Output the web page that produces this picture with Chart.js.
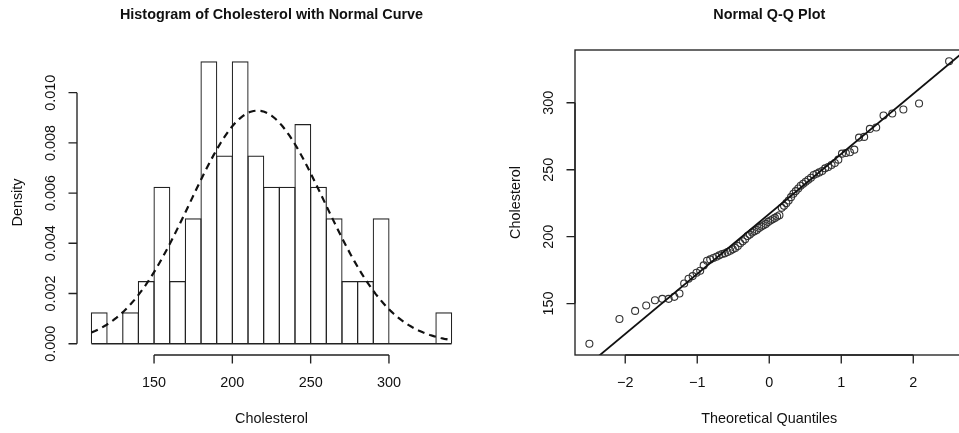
<!DOCTYPE html>
<html>
<head>
<meta charset="utf-8">
<script src="https://cdn.jsdelivr.net/npm/chart.js@4.4.1/dist/chart.umd.min.js"></script>
<style>
html,body{margin:0;padding:0;background:#fff;overflow:hidden;}
#wrap{position:relative;width:959px;height:433px;overflow:hidden;background:#fff;}
#c1{position:absolute;left:0;top:0;}
#c2{position:absolute;left:480px;top:0;}
</style>
</head>
<body>
<div id="wrap">
<canvas id="c1" width="480" height="433"></canvas>
<canvas id="c2" width="490" height="433"></canvas>
</div>
<script>
// ---------- data ----------
const binEdges = [110,120,130,140,150,160,170,180,190,200,210,220,230,240,250,260,270,280,290,300,310,320,330,340];
const binDensity = [0.00125,0,0.00125,0.0025,0.00625,0.0025,0.005,0.01125,0.0075,0.01125,0.0075,0.00625,0.00625,0.00875,0.00625,0.005,0.0025,0.0025,0.005,0,0,0,0.00125];

const cholesterol = [
  120,138.5,144.5,148.5,152.5,153.5,153.5,155,157.5,165,
  168.5,170.5,173,174.5,178.5,182,183,184,185,186,
  187,187.5,188.5,189.5,190.5,191.5,193,195,196.5,198,
  200.5,201.5,203,204,205,206.5,207.5,208.5,209.5,211,
  212,213,214,215,216,221.5,223,225,227,229.5,
  232,234,236,238,239.5,241,242.5,244,246,247,
  248,249,251,252,253.5,255,257.5,262,262.5,263,
  265,274,274.5,280.5,281.5,290.5,292,295,299.5,331
];

const histXTicks = [150,200,250,300];
const histXTickLabels = ['150','200','250','300'];
const histYTicks = [0,0.002,0.004,0.006,0.008,0.010];
const histYTickLabels = ['0.000','0.002','0.004','0.006','0.008','0.010'];

const qqXTicks = [-2,-1,0,1,2];
const qqXTickLabels = ['\u22122','\u22121','0','1','2'];
const qqYTicks = [150,200,250,300];
const qqYTickLabels = ['150','200','250','300'];

// ---------- helpers (R-like statistics) ----------
function qnorm(p){
  const a=[-3.969683028665376e+01,2.209460984245205e+02,-2.759285104469687e+02,1.383577518672690e+02,-3.066479806614716e+01,2.506628277459239e+00];
  const b=[-5.447609879822406e+01,1.615858368580409e+02,-1.556989798598866e+02,6.680131188771972e+01,-1.328068155288572e+01];
  const c=[-7.784894002430293e-03,-3.223964580411365e-01,-2.400758277161838e+00,-2.549732539343734e+00,4.374664141464968e+00,2.938163982698783e+00];
  const d=[7.784695709041462e-03,3.224671290700398e-01,2.445134137142996e+00,3.754408661907416e+00];
  const pl=0.02425, ph=1-pl; let q,r;
  if(p<pl){q=Math.sqrt(-2*Math.log(p));return (((((c[0]*q+c[1])*q+c[2])*q+c[3])*q+c[4])*q+c[5])/((((d[0]*q+d[1])*q+d[2])*q+d[3])*q+1);}
  if(p<=ph){q=p-0.5;r=q*q;return (((((a[0]*r+a[1])*r+a[2])*r+a[3])*r+a[4])*r+a[5])*q/(((((b[0]*r+b[1])*r+b[2])*r+b[3])*r+b[4])*r+1);}
  q=Math.sqrt(-2*Math.log(1-p));return -(((((c[0]*q+c[1])*q+c[2])*q+c[3])*q+c[4])*q+c[5])/((((d[0]*q+d[1])*q+d[2])*q+d[3])*q+1);
}
function quantile7(s,p){const h=(s.length-1)*p;const lo=Math.floor(h);const hi=Math.min(lo+1,s.length-1);return s[lo]+(h-lo)*(s[hi]-s[lo]);}
function extend(lo,hi){const r=hi-lo;return [lo-0.04*r,hi+0.04*r];}

const sorted = cholesterol.slice().sort((a,b)=>a-b);
const n = sorted.length;
const mean = sorted.reduce((s,v)=>s+v,0)/n;
const sd = Math.sqrt(sorted.reduce((s,v)=>s+(v-mean)*(v-mean),0)/(n-1));
const theo = sorted.map((v,i)=>qnorm((i+1-0.5)/n));

// histogram bars
const barData = binDensity.map((d,i)=>({x:(binEdges[i]+binEdges[i+1])/2, y:d}));
const baseData = [{x:binEdges[0],y:0},{x:binEdges[binEdges.length-1],y:0}];
// normal curve (R curve(), n = 101)
const curveData = [];
for(let k=0;k<=100;k++){
  const x = binEdges[0] + (binEdges[binEdges.length-1]-binEdges[0])*k/100;
  curveData.push({x, y: Math.exp(-0.5*((x-mean)/sd)**2)/(sd*Math.sqrt(2*Math.PI))});
}
const histX = extend(binEdges[0], binEdges[binEdges.length-1]);
const histY = extend(0, Math.max(...binDensity));

// Q-Q
const qqPoints = sorted.map((v,i)=>({x:theo[i], y:v}));
const qx = [qnorm(0.25), qnorm(0.75)];
const qy = [quantile7(sorted,0.25), quantile7(sorted,0.75)];
const slope = (qy[1]-qy[0])/(qx[1]-qx[0]);
const intercept = qy[0]-slope*qx[0];
const qqX = extend(theo[0], theo[n-1]);
const qqY = extend(sorted[0], sorted[n-1]);
const qqLineData = [{x:qqX[0], y:intercept+slope*qqX[0]},{x:qqX[1], y:intercept+slope*qqX[1]}];

// ---------- R style axes plugin ----------
const FONT = '"Liberation Sans", Arial, Helvetica, sans-serif';
const INK = '#222';
const LW = 1.35;
const rAxes = {
  id:'rAxes',
  afterDraw(chart, args, o){
    const ctx = chart.ctx, xs = chart.scales.x, ys = chart.scales.y, A = chart.chartArea;
    ctx.save();
    ctx.strokeStyle = INK; ctx.fillStyle = '#111'; ctx.lineWidth = LW;
    if(o.box){ ctx.strokeRect(A.left, A.top, A.right-A.left, A.bottom-A.top); }
    const tick = 8.5;
    // x axis
    const xp = o.xTicks.map(v=>xs.getPixelForValue(v));
    ctx.beginPath();
    ctx.moveTo(xp[0], A.bottom); ctx.lineTo(xp[xp.length-1], A.bottom);
    xp.forEach(p=>{ctx.moveTo(p, A.bottom); ctx.lineTo(p, A.bottom+tick);});
    ctx.stroke();
    ctx.font = '14.4px '+FONT; ctx.textAlign='center'; ctx.textBaseline='alphabetic';
    xp.forEach((p,i)=>ctx.fillText(o.xTickLabels[i], p, A.bottom+31.7));
    ctx.fillText(o.xTitle, (A.left+A.right)/2, A.bottom+67.5);
    // y axis
    const yp = o.yTicks.map(v=>ys.getPixelForValue(v));
    ctx.beginPath();
    ctx.moveTo(A.left, yp[0]); ctx.lineTo(A.left, yp[yp.length-1]);
    yp.forEach(p=>{ctx.moveTo(A.left, p); ctx.lineTo(A.left-tick, p);});
    ctx.stroke();
    yp.forEach((p,i)=>{
      ctx.save(); ctx.translate(A.left-22, p); ctx.rotate(-Math.PI/2);
      ctx.fillText(o.yTickLabels[i], 0, 0); ctx.restore();
    });
    ctx.save(); ctx.translate(A.left-55.5, (A.top+A.bottom)/2); ctx.rotate(-Math.PI/2);
    ctx.fillText(o.yTitle, 0, 0); ctx.restore();
    // main title
    ctx.font = 'bold 14.4px '+FONT;
    ctx.fillText(o.title, (A.left+A.right)/2, A.top-31);
    ctx.restore();
  }
};

const common = {
  responsive:false, animation:false, devicePixelRatio:1, events:[],
};

new Chart(document.getElementById('c1'), {
  type:'bar',
  data:{datasets:[
    {type:'line', data:curveData, borderColor:'#111', borderWidth:2.2, borderDash:[7,5], pointRadius:0, fill:false, tension:0, order:0},
    {type:'line', data:baseData, borderColor:INK, borderWidth:LW, pointRadius:0, fill:false, order:1},
    {type:'bar', data:barData, backgroundColor:'rgba(0,0,0,0)', borderColor:INK, borderWidth:1.2,
     borderSkipped:'start', inflateAmount:0, barPercentage:1.075, categoryPercentage:1, grouped:false, order:2}
  ]},
  options:Object.assign({}, common, {
    layout:{padding:{left:77, right:14, top:50, bottom:78}},
    scales:{
      x:{type:'linear', display:false, offset:false, min:histX[0], max:histX[1]},
      y:{type:'linear', display:false, min:histY[0], max:histY[1]}
    },
    plugins:{legend:{display:false}, tooltip:{enabled:false},
      rAxes:{title:'Histogram of Cholesterol with Normal Curve', xTitle:'Cholesterol', yTitle:'Density',
        xTicks:histXTicks, xTickLabels:histXTickLabels, yTicks:histYTicks, yTickLabels:histYTickLabels, box:false}}
  }),
  plugins:[rAxes]
});

new Chart(document.getElementById('c2'), {
  type:'scatter',
  data:{datasets:[
    {type:'line', data:qqLineData, borderColor:'#111', borderWidth:1.8, pointRadius:0, fill:false, order:0},
    {type:'scatter', data:qqPoints, pointRadius:3.5, pointBorderWidth:1.1, pointBorderColor:'#333', pointBackgroundColor:'rgba(0,0,0,0)', order:1}
  ]},
  options:Object.assign({}, common, {
    layout:{padding:{left:95, right:6.5, top:50, bottom:78}},
    scales:{
      x:{type:'linear', display:false, offset:false, min:qqX[0], max:qqX[1]},
      y:{type:'linear', display:false, min:qqY[0], max:qqY[1]}
    },
    plugins:{legend:{display:false}, tooltip:{enabled:false},
      rAxes:{title:'Normal Q-Q Plot', xTitle:'Theoretical Quantiles', yTitle:'Cholesterol',
        xTicks:qqXTicks, xTickLabels:qqXTickLabels, yTicks:qqYTicks, yTickLabels:qqYTickLabels, box:true}}
  }),
  plugins:[rAxes]
});
</script>
</body>
</html>
